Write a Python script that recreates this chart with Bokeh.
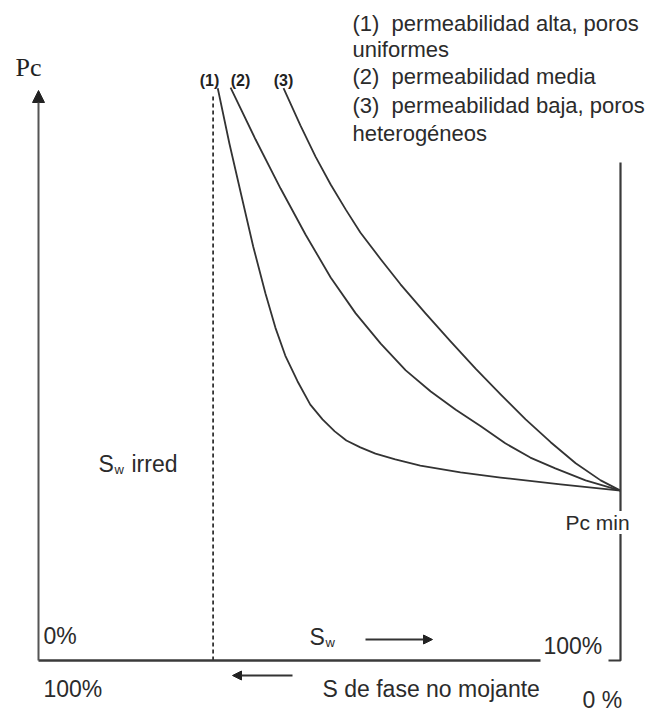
from bokeh.plotting import figure
from bokeh.models import Range1d, Arrow, NormalHead
from bokeh.core.properties import value
from bokeh.embed import file_html
from bokeh.resources import INLINE

# ---- data (Sw in %, Pc in arbitrary units) ----
Sw1 = [30.8, 32.8, 34.9, 36.9, 39.0, 40.7, 42.4, 44.5, 46.7, 48.8, 50.9, 52.9, 55.3, 57.9, 61.3, 65.6, 72.5, 79.4, 89.7, 100]
Pc1 = [100.4, 90.7, 81.4, 72.6, 64.4, 58.4, 53.5, 49.0, 44.9, 42.3, 40.2, 38.6, 37.4, 36.3, 35.3, 34.2, 33.0, 32.1, 30.9, 29.8]

Sw2 = [33.0, 37.3, 41.6, 45.9, 50.2, 54.5, 58.8, 63.1, 67.4, 71.7, 76.0, 80.2, 84.5, 88.8, 94.0, 100]
Pc2 = [100.5, 91.4, 82.8, 74.7, 67.2, 60.9, 55.6, 50.9, 47.2, 44.0, 41.1, 38.1, 35.6, 33.7, 31.6, 29.8]

Sw3 = [42.1, 45.0, 47.6, 50.2, 52.8, 55.3, 58.8, 62.2, 66.5, 70.8, 75.1, 79.4, 83.7, 88.0, 92.3, 96.6, 100]
Pc3 = [100.4, 93.9, 88.4, 83.5, 79.1, 75.1, 70.4, 66.0, 60.9, 56.0, 51.2, 46.7, 42.3, 38.3, 34.6, 31.6, 29.8]

Sw_irr = 30.0
curve_labels = ["(1)", "(2)", "(3)"]
legend_lines = ["(1)\u00a0 permeabilidad alta, poros", "uniformes",
                "(2)\u00a0 permeabilidad media", "(3)\u00a0 permeabilidad baja, poros",
                "heterogéneos"]

# ---- layout helpers: page pixel -> data units ----
def X(px):
    return (px - 38) / 5.82

def Y(py):
    return (660 - py) / 5.7

INK = "#2b2b2b"
LINE = "#3a3a3a"
SANS = value("Liberation Sans")

p = figure(width=656, height=712,
           x_range=Range1d(X(0), X(656)), y_range=Range1d(Y(712), Y(0)),
           output_backend="svg", toolbar_location=None, min_border=0,
           x_axis_location=None, y_axis_location=None)
p.grid.visible = False
p.outline_line_color = None
p.background_fill_color = "white"
p.border_fill_color = "white"

# curves
for sx, sy in ((Sw1, Pc1), (Sw2, Pc2), (Sw3, Pc3)):
    p.line(sx, sy, line_color="#333333", line_width=1.8, line_join="round")

# Sw irreducible dashed line
p.segment(x0=[Sw_irr], y0=[0], x1=[Sw_irr], y1=[Y(93)],
          line_color="#333333", line_width=1.8, line_dash="4 3")

# x axis line
p.segment(x0=[0], y0=[0], x1=[X(540)], y1=[0], line_color=LINE, line_width=2.5)
# right bracket
p.line([X(608), 100, 100], [0, 0, Y(162)], line_color=LINE, line_width=2.2)

# y axis arrow
p.add_layout(Arrow(end=NormalHead(size=12, fill_color="#222222", line_color="#222222"),
                   x_start=0, y_start=0, x_end=0, y_end=Y(90),
                   line_color="#555555", line_width=2))
# Sw arrow (right)
p.add_layout(Arrow(end=NormalHead(size=9, fill_color="#222222", line_color="#222222"),
                   x_start=X(365), y_start=Y(639), x_end=X(432), y_end=Y(639),
                   line_color="#333333", line_width=1.8))
# non-wetting arrow (left)
p.add_layout(Arrow(end=NormalHead(size=9, fill_color="#222222", line_color="#222222"),
                   x_start=X(292), y_start=Y(675), x_end=X(232), y_end=Y(675),
                   line_color="#333333", line_width=1.8))

# Pc label
p.text(x=[X(15)], y=[Y(67)], text=["Pc"], text_font=value("Liberation Serif"),
       text_font_size="26px", text_baseline="middle", text_align="left", text_color="#222222")

# curve labels
p.text(x=[X(209), X(240), X(283)], y=[Y(80)] * 3, text=curve_labels,
       text_font=SANS, text_font_style="bold", text_font_size="16px",
       text_baseline="middle", text_align="center", text_color="#222222")

# legend
p.text(x=[X(352)] * 5, y=[Y(22.5), Y(49), Y(76), Y(105), Y(133)], text=legend_lines,
       text_font=SANS, text_font_size="22px", text_baseline="middle",
       text_align="left", text_color=INK)

# Pc min (on a white box that hides the bracket line)
p.text(x=[X(565)], y=[Y(522)], text=["Pc min"],
       text_font=SANS, text_font_size="21px", text_baseline="middle",
       text_align="left", text_color=INK, background_fill_color="white")

# main texts
p.text(x=[X(131), X(43), X(543), X(43), X(322), X(582)],
       y=[Y(463), Y(635), Y(645), Y(688), Y(688), Y(699)],
       text=["irred", "0%", "100%", "100%", "S de fase no mojante", "0 %"],
       text_font=SANS, text_font_size="23px", text_baseline="middle",
       text_align="left", text_color=INK)

# S with subscript w
p.text(x=[X(98), X(309)], y=[Y(463), Y(636)], text=["S", "S"],
       text_font=SANS, text_font_size="23px", text_baseline="middle",
       text_align="left", text_color=INK)
p.text(x=[X(114), X(325)], y=[Y(469), Y(642)], text=["w", "w"],
       text_font=SANS, text_font_size="13px", text_baseline="middle",
       text_align="left", text_color=INK)

open("out.html", "w").write(file_html(p, INLINE))
